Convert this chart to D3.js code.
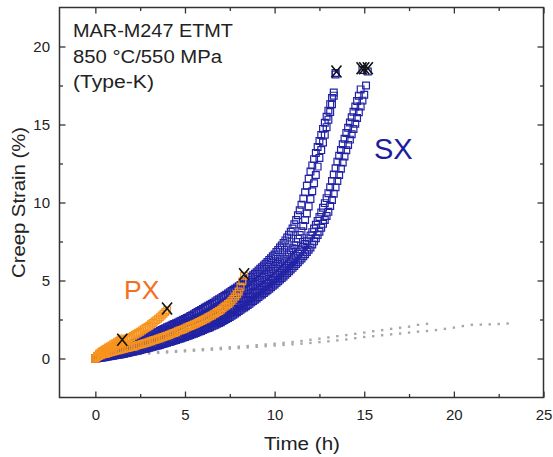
<!DOCTYPE html>
<html>
<head>
<meta charset="utf-8">
<script src="https://d3js.org/d3.v7.min.js"></script>
<style>
    body { margin: 0; background: #ffffff; }
    text { font-family: "Liberation Sans", Arial, sans-serif; }
</style>
</head>
<body>
<div id="chart"></div>
<script>
// Данные. Время в часах, деформация в процентах.
// Общая сетка времени (шаг 0.1 ч) для всех образцов SX и PX
var timeH = [0, 0.1, 0.2, 0.3, 0.4, 0.5, 0.6, 0.7, 0.8, 0.9,
    1, 1.1, 1.2, 1.3, 1.4, 1.5, 1.6, 1.7, 1.8, 1.9,
    2, 2.1, 2.2, 2.3, 2.4, 2.5, 2.6, 2.7, 2.8, 2.9,
    3, 3.1, 3.2, 3.3, 3.4, 3.5, 3.6, 3.7, 3.8, 3.9,
    4, 4.1, 4.2, 4.3, 4.4, 4.5, 4.6, 4.7, 4.8, 4.9,
    5, 5.1, 5.2, 5.3, 5.4, 5.5, 5.6, 5.7, 5.8, 5.9,
    6, 6.1, 6.2, 6.3, 6.4, 6.5, 6.6, 6.7, 6.8, 6.9,
    7, 7.1, 7.2, 7.3, 7.4, 7.5, 7.6, 7.7, 7.8, 7.9,
    8, 8.1, 8.2, 8.3, 8.4, 8.5, 8.6, 8.7, 8.8, 8.9,
    9, 9.1, 9.2, 9.3, 9.4, 9.5, 9.6, 9.7, 9.8, 9.9,
    10, 10.1, 10.2, 10.3, 10.4, 10.5, 10.6, 10.7, 10.8, 10.9,
    11, 11.1, 11.2, 11.3, 11.4, 11.5, 11.6, 11.7, 11.8, 11.9,
    12, 12.1, 12.2, 12.3, 12.4, 12.5, 12.6, 12.7, 12.8, 12.9,
    13, 13.1, 13.2, 13.3, 13.4, 13.5, 13.6, 13.7, 13.8, 13.9,
    14, 14.1, 14.2, 14.3, 14.4, 14.5, 14.6, 14.7, 14.8, 14.9,
    15, 15.1, 15.2];

// SX: левая пара кривых (разрушение ~13.4 ч)
var sxL1 = [0, 0.08, 0.13, 0.18, 0.22, 0.26, 0.3, 0.34, 0.38, 0.42,
    0.46, 0.5, 0.54, 0.58, 0.62, 0.66, 0.71, 0.75, 0.8, 0.84,
    0.89, 0.94, 0.99, 1.04, 1.09, 1.14, 1.2, 1.26, 1.31, 1.37,
    1.43, 1.49, 1.55, 1.6, 1.66, 1.72, 1.78, 1.83, 1.89, 1.94,
    2.0, 2.05, 2.1, 2.16, 2.21, 2.26, 2.31, 2.37, 2.42, 2.48,
    2.53, 2.59, 2.65, 2.72, 2.78, 2.84, 2.91, 2.98, 3.04, 3.11,
    3.18, 3.25, 3.31, 3.38, 3.44, 3.51, 3.58, 3.65, 3.73, 3.8,
    3.87, 3.94, 4.02, 4.09, 4.17, 4.24, 4.32, 4.4, 4.47, 4.55,
    4.63, 4.71, 4.8, 4.88, 4.97, 5.05, 5.15, 5.24, 5.34, 5.43,
    5.53, 5.64, 5.75, 5.85, 5.96, 6.07, 6.19, 6.31, 6.43, 6.55,
    6.67, 6.82, 6.96, 7.11, 7.25, 7.4, 7.57, 7.75, 7.94, 8.13,
    8.33, 8.6, 8.88, 9.18, 9.5, 9.85, 10.25, 10.65, 11.07, 11.52,
    11.98, 12.38, 12.78, 13.17, 13.56, 13.94, 14.33, 14.72, 15.11, 15.5,
    15.89, 16.3, 16.7, 17.05, 18.3];

var sxL2 = [0, 0.04, 0.07, 0.1, 0.12, 0.14, 0.18, 0.22, 0.26, 0.3,
    0.34, 0.38, 0.42, 0.46, 0.5, 0.54, 0.58, 0.62, 0.67, 0.71,
    0.75, 0.79, 0.83, 0.88, 0.92, 0.96, 1.01, 1.06, 1.11, 1.16,
    1.21, 1.26, 1.32, 1.37, 1.43, 1.48, 1.54, 1.59, 1.65, 1.7,
    1.76, 1.81, 1.86, 1.92, 1.97, 2.02, 2.07, 2.12, 2.17, 2.22,
    2.27, 2.32, 2.36, 2.41, 2.45, 2.5, 2.55, 2.6, 2.64, 2.69,
    2.74, 2.8, 2.86, 2.93, 2.99, 3.05, 3.11, 3.18, 3.24, 3.31,
    3.37, 3.44, 3.51, 3.58, 3.65, 3.72, 3.79, 3.87, 3.94, 4.02,
    4.09, 4.17, 4.24, 4.32, 4.39, 4.47, 4.55, 4.63, 4.71, 4.79,
    4.87, 4.96, 5.05, 5.15, 5.24, 5.33, 5.43, 5.53, 5.63, 5.73,
    5.83, 5.94, 6.06, 6.17, 6.29, 6.4, 6.53, 6.67, 6.8, 6.94,
    7.07, 7.26, 7.46, 7.68, 7.91, 8.15, 8.5, 8.88, 9.3, 9.75,
    10.22, 10.72, 11.23, 11.76, 12.3, 12.86, 13.36, 13.85, 14.34, 14.83,
    15.31, 15.8, 16.3, 16.85, 18.2];

// SX: правая пара кривых (разрушение ~14.9 и ~15.2 ч)
var sxR1 = [0, 0.03, 0.05, 0.08, 0.1, 0.12, 0.14, 0.16, 0.18, 0.2,
    0.22, 0.24, 0.27, 0.29, 0.32, 0.34, 0.37, 0.39, 0.42, 0.44,
    0.47, 0.5, 0.53, 0.55, 0.58, 0.61, 0.64, 0.67, 0.71, 0.74,
    0.77, 0.8, 0.84, 0.87, 0.91, 0.94, 0.97, 1.01, 1.04, 1.08,
    1.11, 1.15, 1.19, 1.23, 1.27, 1.31, 1.35, 1.39, 1.44, 1.48,
    1.52, 1.57, 1.61, 1.66, 1.7, 1.75, 1.8, 1.85, 1.9, 1.95,
    2.0, 2.06, 2.11, 2.17, 2.22, 2.28, 2.34, 2.4, 2.45, 2.51,
    2.57, 2.64, 2.72, 2.79, 2.87, 2.94, 3.02, 3.11, 3.19, 3.28,
    3.36, 3.44, 3.52, 3.61, 3.69, 3.77, 3.86, 3.95, 4.03, 4.12,
    4.21, 4.3, 4.39, 4.49, 4.58, 4.67, 4.77, 4.86, 4.96, 5.05,
    5.15, 5.26, 5.37, 5.48, 5.59, 5.7, 5.82, 5.94, 6.05, 6.17,
    6.29, 6.43, 6.57, 6.71, 6.85, 6.99, 7.16, 7.34, 7.52, 7.7,
    7.88, 8.1, 8.33, 8.57, 8.82, 9.07, 9.36, 9.66, 9.96, 10.28,
    10.6, 10.98, 11.38, 11.79, 12.2, 12.62, 13.0, 13.37, 13.73, 14.09,
    14.45, 14.79, 15.13, 15.47, 15.81, 16.15, 16.5, 16.85, 17.25, 18.5];

var sxR2 = [0, 0.02, 0.04, 0.05, 0.07, 0.08, 0.1, 0.12, 0.14, 0.16,
    0.18, 0.2, 0.22, 0.24, 0.26, 0.28, 0.31, 0.33, 0.36, 0.38,
    0.41, 0.44, 0.47, 0.49, 0.52, 0.55, 0.58, 0.61, 0.63, 0.66,
    0.69, 0.72, 0.75, 0.78, 0.81, 0.84, 0.87, 0.91, 0.94, 0.98,
    1.01, 1.05, 1.08, 1.12, 1.15, 1.19, 1.23, 1.27, 1.3, 1.34,
    1.38, 1.42, 1.46, 1.51, 1.55, 1.59, 1.64, 1.68, 1.73, 1.77,
    1.82, 1.87, 1.92, 1.96, 2.01, 2.06, 2.11, 2.17, 2.22, 2.28,
    2.33, 2.4, 2.46, 2.53, 2.59, 2.66, 2.74, 2.81, 2.89, 2.96,
    3.04, 3.12, 3.2, 3.27, 3.35, 3.43, 3.51, 3.6, 3.68, 3.77,
    3.85, 3.94, 4.03, 4.11, 4.2, 4.29, 4.38, 4.47, 4.57, 4.66,
    4.75, 4.85, 4.95, 5.06, 5.16, 5.26, 5.37, 5.48, 5.59, 5.7,
    5.81, 5.93, 6.05, 6.17, 6.29, 6.41, 6.55, 6.69, 6.83, 6.97,
    7.12, 7.31, 7.51, 7.71, 7.92, 8.13, 8.38, 8.63, 8.88, 9.14,
    9.4, 9.77, 10.16, 10.56, 10.97, 11.38, 11.77, 12.16, 12.56, 12.95,
    13.35, 13.69, 14.03, 14.37, 14.71, 15.05, 15.42, 15.79, 16.16, 16.53,
    16.9, 17.5, 18.4];

// PX: три образца (разрушение 1.5, 4.0 и 8.3 ч)
var pxA = [0, 0.17, 0.3, 0.4, 0.48, 0.56, 0.63, 0.7, 0.77, 0.84,
    0.91, 0.98, 1.05, 1.12, 1.2, 1.28];

var pxB = [0, 0.14, 0.25, 0.33, 0.4, 0.45, 0.51, 0.57, 0.63, 0.69,
    0.75, 0.81, 0.87, 0.93, 0.99, 1.05, 1.12, 1.18, 1.25, 1.31,
    1.38, 1.45, 1.52, 1.58, 1.65, 1.72, 1.8, 1.87, 1.95, 2.02,
    2.1, 2.19, 2.28, 2.37, 2.46, 2.55, 2.65, 2.76, 2.87, 2.98,
    3.1];

var pxC = [0, 0.1, 0.16, 0.21, 0.25, 0.28, 0.31, 0.35, 0.38, 0.42,
    0.45, 0.48, 0.51, 0.53, 0.56, 0.59, 0.62, 0.65, 0.67, 0.7,
    0.73, 0.76, 0.79, 0.83, 0.86, 0.89, 0.93, 0.96, 1.0, 1.03,
    1.07, 1.11, 1.15, 1.18, 1.22, 1.26, 1.3, 1.34, 1.38, 1.42,
    1.46, 1.51, 1.55, 1.6, 1.64, 1.69, 1.74, 1.79, 1.83, 1.88,
    1.93, 1.98, 2.03, 2.08, 2.13, 2.18, 2.23, 2.29, 2.34, 2.4,
    2.45, 2.51, 2.57, 2.64, 2.7, 2.76, 2.83, 2.9, 2.98, 3.05,
    3.13, 3.22, 3.31, 3.4, 3.49, 3.58, 3.7, 3.83, 3.97, 4.12,
    4.3, 4.6, 4.95, 5.3];

// Серые точки (опорные кривые), шаг 0.5 ч
var refTime = [0, 0.5, 1, 1.5, 2, 2.5, 3, 3.5, 4, 4.5, 5, 5.5, 6, 6.5, 7, 7.5, 8, 8.5, 9, 9.5, 10, 10.5, 11, 11.5,
    12, 12.5, 13, 13.5, 14, 14.5, 15, 15.5, 16, 16.5, 17, 17.5, 18, 18.5, 19, 19.5, 20, 20.5, 21, 21.5, 22, 22.5, 23];
var refA = [0, 0.12, 0.2, 0.25, 0.3, 0.34, 0.38, 0.41, 0.45, 0.48, 0.52, 0.56, 0.6, 0.64, 0.68, 0.72, 0.76, 0.8, 0.85, 0.9,
    0.95, 1.0, 1.06, 1.12, 1.2, 1.27, 1.35, 1.43, 1.5, 1.58, 1.66, 1.75, 1.82, 1.9, 1.97, 2.04, 2.16, 2.22];
var refB = [0, 0.09, 0.15, 0.2, 0.25, 0.29, 0.32, 0.36, 0.39, 0.43, 0.46, 0.5, 0.53, 0.57, 0.6, 0.64, 0.67, 0.71, 0.75, 0.79,
    0.83, 0.87, 0.91, 0.95, 1.0, 1.05, 1.1, 1.16, 1.22, 1.3, 1.38, 1.43, 1.49, 1.55, 1.6, 1.66, 1.72, 1.76, 1.82, 1.9,
    1.98, 2.08, 2.16, 2.17, 2.19, 2.21, 2.24];

// Точки разрушения (крестики)
var fracTime = [1.5, 4.0, 8.3, 13.45, 14.85, 15.0, 15.2];
var fracStrain = [1.2, 3.2, 5.4, 18.4, 18.6, 18.6, 18.6];

var xMajor = [0, 5, 10, 15, 20, 25];
var xMinor = [2.5, 7.5, 12.5, 17.5, 22.5];
var yMajor = [0, 5, 10, 15, 20];
var yMinor = [2.5, 7.5, 12.5, 17.5];

var app = app || {};

app.chart = (function () {
    var width = 553,
        height = 457,
        blue = "#2222a4",
        orange = "#f7941e";

    var svg = d3.select("#chart")
        .append("svg")
        .attr("width", width)
        .attr("height", height);

    var x = d3.scaleLinear().domain([-2, 25]).range([59.5, 543.5]);
    var y = d3.scaleLinear().domain([-2.5, 22.5]).range([397.5, 7.5]);

    //Собирает пары [время, деформация]; длина берется по массиву деформации
    function pairs(times, values) {
        return values.map(function (v, i) {
            return [times[i], v];
        });
    }

    var square = d3.symbol().type(d3.symbolSquare).size(46);

    function drawSquares(data, color) {
        svg.append("g")
            .selectAll("path")
            .data(data)
            .enter()
            .append("path")
            .attr("d", square)
            .attr("transform", function (d) {
                return "translate(" + x(d[0]) + "," + y(d[1]) + ")";
            })
            .attr("fill", "none")
            .attr("stroke", color)
            .attr("stroke-width", 1.2);
    }

    // серые точки
    [refA, refB].forEach(function (series) {
        svg.append("g")
            .selectAll("rect")
            .data(pairs(refTime, series))
            .enter()
            .append("rect")
            .attr("x", function (d) { return x(d[0]) - 1.2; })
            .attr("y", function (d) { return y(d[1]) - 1.2; })
            .attr("width", 2.4)
            .attr("height", 2.4)
            .attr("fill", "#a8a8a8");
    });

    drawSquares(pairs(timeH, sxR2), blue);
    drawSquares(pairs(timeH, sxR1), blue);
    drawSquares(pairs(timeH, sxL2), blue);
    drawSquares(pairs(timeH, sxL1), blue);

    drawSquares(pairs(timeH, pxC), orange);
    drawSquares(pairs(timeH, pxB), orange);
    drawSquares(pairs(timeH, pxA), orange);

    // крестики разрушения
    svg.append("g")
        .selectAll("path")
        .data(pairs(fracTime, fracStrain))
        .enter()
        .append("path")
        .attr("d", "M-5,-6L5,6M-5,6L5,-6")
        .attr("transform", function (d) {
            return "translate(" + x(d[0]) + "," + y(d[1]) + ")";
        })
        .attr("fill", "none")
        .attr("stroke", "#111111")
        .attr("stroke-width", 1.6);

    // оси: все засечки внутрь
    function styleAxis(g) {
        g.select(".domain").remove();
        g.selectAll("line").attr("stroke", "#333333").attr("stroke-width", 1.3);
        g.selectAll("text").attr("font-size", 15).attr("fill", "#222222")
            .attr("font-family", "'Liberation Sans', Arial, sans-serif");
    }

    svg.append("g").attr("transform", "translate(0,397.5)")
        .call(d3.axisBottom(x).tickValues(xMajor).tickSize(-6).tickPadding(12).tickFormat(d3.format("d")))
        .call(styleAxis);
    svg.append("g").attr("transform", "translate(0,397.5)")
        .call(d3.axisBottom(x).tickValues(xMinor).tickSize(-3.5).tickFormat(""))
        .call(styleAxis);
    svg.append("g").attr("transform", "translate(0,7.5)")
        .call(d3.axisTop(x).tickValues(xMajor).tickSize(-6).tickFormat(""))
        .call(styleAxis);
    svg.append("g").attr("transform", "translate(0,7.5)")
        .call(d3.axisTop(x).tickValues(xMinor).tickSize(-3.5).tickFormat(""))
        .call(styleAxis);

    svg.append("g").attr("transform", "translate(59.5,0)")
        .call(d3.axisLeft(y).tickValues(yMajor).tickSize(-6).tickPadding(9.5).tickFormat(d3.format("d")))
        .call(styleAxis);
    svg.append("g").attr("transform", "translate(59.5,0)")
        .call(d3.axisLeft(y).tickValues(yMinor).tickSize(-3.5).tickFormat(""))
        .call(styleAxis);
    svg.append("g").attr("transform", "translate(543.5,0)")
        .call(d3.axisRight(y).tickValues(yMajor).tickSize(-6).tickFormat(""))
        .call(styleAxis);
    svg.append("g").attr("transform", "translate(543.5,0)")
        .call(d3.axisRight(y).tickValues(yMinor).tickSize(-3.5).tickFormat(""))
        .call(styleAxis);

    svg.append("rect")
        .attr("x", 59.5)
        .attr("y", 7.5)
        .attr("width", 484)
        .attr("height", 390)
        .attr("fill", "none")
        .attr("stroke", "#333333")
        .attr("stroke-width", 1.5);

    // подписи
    var notes = [
        {text: "MAR-M247 ETMT", y: 37, len: 160},
        {text: "850 °C/550 MPa", y: 63, len: 149},
        {text: "(Type-K)", y: 88, len: 81}
    ];
    notes.forEach(function (n) {
        svg.append("text")
            .attr("x", 73)
            .attr("y", n.y)
            .attr("font-size", 17.5)
            .attr("fill", "#222222")
            .attr("textLength", n.len)
            .attr("lengthAdjust", "spacingAndGlyphs")
            .text(n.text);
    });

    svg.append("text")
        .attr("x", 374)
        .attr("y", 159)
        .attr("font-size", 29)
        .attr("fill", "#1c1c9c")
        .text("SX");

    svg.append("text")
        .attr("x", 124)
        .attr("y", 299)
        .attr("font-size", 26.5)
        .attr("fill", "#f36f21")
        .text("PX");

    svg.append("text")
        .attr("x", 302)
        .attr("y", 450)
        .attr("text-anchor", "middle")
        .attr("font-size", 18)
        .attr("fill", "#222222")
        .attr("textLength", 76)
        .attr("lengthAdjust", "spacingAndGlyphs")
        .text("Time (h)");

    svg.append("text")
        .attr("transform", "translate(25,202.5) rotate(-90)")
        .attr("text-anchor", "middle")
        .attr("font-size", 18)
        .attr("fill", "#222222")
        .attr("textLength", 151)
        .attr("lengthAdjust", "spacingAndGlyphs")
        .text("Creep Strain (%)");

    return {x: x, y: y};
}());
</script>
</body>
</html>
